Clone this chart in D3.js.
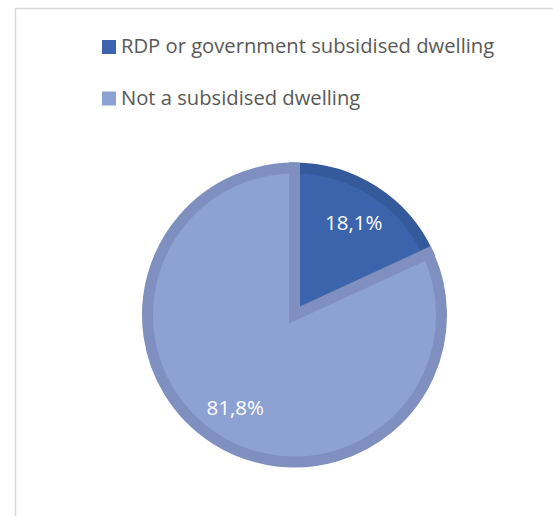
<!DOCTYPE html>
<html>
<head>
<meta charset="utf-8">
<script src="https://cdn.jsdelivr.net/npm/d3@7"></script>
<style>
    body { margin: 0; background: #fff; }
    svg { display: block; font-family: "Open Sans", "Noto Sans", sans-serif; }
</style>
</head>
<body>
<svg class="main" width="553" height="516"></svg>
<script>
var categories = ["RDP or government subsidised dwelling", "Not a subsidised dwelling"],
    values = [18.1, 81.8],
    labels = ["18,1%", "81,8%"],
    fills = ["#3b64ad", "#8ea1d3"],
    borders = ["#355a9b", "#7f90c0"];

var layout = {
    width: 553,
    height: 516,
    cx: 294.5,
    cy: 315,
    radius: 147,
    border: 11,
    labelRadius: 110
};

var main = d3.select(".main");

/**
 * Chart area frame (runs off the right and bottom)
 */
main.append("rect")
    .attr("x", 15.5)
    .attr("y", 8.5)
    .attr("width", 600)
    .attr("height", 600)
    .attr("fill", "none")
    .attr("stroke", "#d9d9d9")
    .attr("stroke-width", 1.5);

/**
 * Legend
 */
var legend = main.append("g")
    .attr("transform", "translate(102,40)");

var legendItem = legend.selectAll("g")
    .data(categories)
    .enter()
    .append("g")
    .attr("transform", function(d, i) {
        return "translate(0," + (i * 51.5) + ")";
    });

legendItem.append("rect")
    .attr("width", 14)
    .attr("height", 14)
    .attr("fill", function(d, i) { return fills[i]; });

legendItem.append("text")
    .attr("x", 19)
    .attr("y", 13)
    .attr("fill", "#595959")
    .style("font-size", "20.2px")
    .text(function(d) { return d; });

/**
 * Pie
 */
var pie = d3.pie()
    .sort(null)
    .value(function(d) { return d; });

var arc = d3.arc()
    .innerRadius(0)
    .outerRadius(layout.radius);

var labelArc = d3.arc()
    .innerRadius(layout.labelRadius)
    .outerRadius(layout.labelRadius);

var arcs = pie(values);

var plot = main.append("g")
    .attr("transform", "translate(" + layout.cx + "," + layout.cy + ")");

plot.selectAll("path")
    .data(arcs)
    .enter()
    .append("path")
    .attr("d", arc)
    .attr("fill", function(d, i) { return fills[i]; })
    .attr("stroke", function(d, i) { return borders[i]; })
    .attr("stroke-width", layout.border)
    .attr("stroke-linejoin", "miter");

plot.selectAll("text")
    .data(arcs)
    .enter()
    .append("text")
    .attr("transform", function(d) {
        return "translate(" + labelArc.centroid(d) + ")";
    })
    .attr("dy", "0.35em")
    .attr("text-anchor", "middle")
    .attr("fill", "#fff")
    .style("font-size", "20.5px")
    .text(function(d, i) { return labels[i]; });
</script>
</body>
</html>
